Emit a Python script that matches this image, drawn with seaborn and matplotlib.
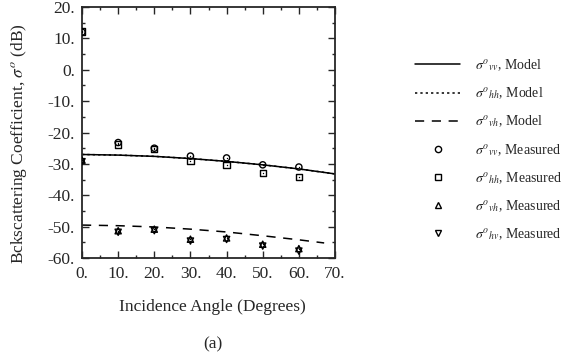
import numpy as np
import pandas as pd
import matplotlib
matplotlib.use("Agg")
import matplotlib.pyplot as plt
import seaborn as sns
from matplotlib.lines import Line2D
from matplotlib.ticker import MultipleLocator, FuncFormatter

# model curves
model_angle = [0, 10, 20, 30, 40, 50, 60, 70]
vv_model = [-27.0, -27.2, -27.6, -28.3, -29.2, -30.3, -31.6, -33.2]
hh_model = [-27.0, -27.2, -27.6, -28.3, -29.2, -30.3, -31.6, -33.2]
vh_angle = [0, 10, 20, 30, 40, 50, 60, 67]
vh_model = [-49.5, -49.7, -50.1, -50.8, -51.7, -52.9, -54.2, -55.2]

# measurements
meas_angle = [0, 10, 20, 30, 40, 50, 60]
vv_meas = [12.0, -23.2, -25.0, -27.5, -28.1, -30.3, -31.0]
hh_meas = [12.2, -23.8, -25.3, -29.0, -30.3, -32.9, -34.1]
vh_meas = [-28.8, -51.3, -50.8, -54.0, -53.6, -55.6, -57.0]
hv_meas = [-29.3, -51.8, -51.3, -54.6, -54.1, -56.2, -57.8]

models = pd.DataFrame({
    "angle": model_angle * 2 + vh_angle,
    "sigma": vv_model + hh_model + vh_model,
    "pol": ["vv"] * 8 + ["hh"] * 8 + ["vh"] * 8,
})
meas = pd.DataFrame({
    "angle": meas_angle * 4,
    "sigma": vv_meas + hh_meas + vh_meas + hv_meas,
    "pol": ["vv"] * 7 + ["hh"] * 7 + ["vh"] * 7 + ["hv"] * 7,
})

sns.set_style("ticks")
plt.rcParams["font.family"] = ["Liberation Serif", "DejaVu Serif"]
plt.rcParams["mathtext.fontset"] = "stix"

fig = plt.figure(figsize=(5.68, 3.60), dpi=100)
ax = fig.add_axes([0.1444, 0.2833, 0.4454, 0.6972])

styles = {"vv": "-", "hh": (0, (1.5, 2)), "vh": (0, (6, 5))}
for pol in ["hh", "vv", "vh"]:
    sub = models[models.pol == pol]
    sns.lineplot(data=sub, x="angle", y="sigma", ax=ax, color="black",
                 linewidth=1.1, linestyle=styles[pol], legend=False)

markers = {"vv": "o", "hh": "s", "vh": "^", "hv": "v"}
for pol in ["vv", "hh", "vh", "hv"]:
    sub = meas[meas.pol == pol]
    sns.scatterplot(data=sub, x="angle", y="sigma", ax=ax, marker=markers[pol],
                    s=20, facecolor="none", edgecolor="black", linewidth=1.0,
                    legend=False, zorder=3)
    sns.scatterplot(data=sub, x="angle", y="sigma", ax=ax, marker=".",
                    s=4, color="black", linewidth=0, legend=False, zorder=4)

ax.set_xlim(0, 70)
ax.set_ylim(-60, 20)
ax.xaxis.set_major_locator(MultipleLocator(10))
ax.xaxis.set_minor_locator(MultipleLocator(5))
ax.yaxis.set_major_locator(MultipleLocator(10))
ax.yaxis.set_minor_locator(MultipleLocator(5))
fmt = FuncFormatter(lambda v, p: f"{v:.0f}.")
ax.xaxis.set_major_formatter(fmt)
ax.yaxis.set_major_formatter(fmt)
ax.tick_params(which="both", direction="in", top=True, right=True, labelsize=12.5,
               width=1.0)
ax.tick_params(axis="y", pad=5)
ax.tick_params(axis="x", pad=6)
ax.tick_params(which="major", length=5)
ax.tick_params(which="minor", length=2.5)
for sp in ax.spines.values():
    sp.set_linewidth(1.3)

ax.set_xlabel("Incidence Angle (Degrees)", fontsize=12.5)
ax.set_ylabel(r"Bckscattering Coefficient, $\sigma^{o}$ (dB)", fontsize=12.5)
ax.xaxis.set_label_coords(0.515, -0.165)
ax.yaxis.set_label_coords(-0.21, 0.455)

fig.text(0.375, 0.042, "(a)", fontsize=12.5, ha="center", va="center")

handles = [
    Line2D([], [], color="black", lw=1.1, ls="-"),
    Line2D([], [], color="black", lw=1.1, ls=(0, (1.5, 2))),
    Line2D([], [], color="black", lw=1.1, ls=(0, (6, 5))),
    Line2D([], [], color="black", ls="none", marker="o", mfc="none", ms=4.5),
    Line2D([], [], color="black", ls="none", marker="s", mfc="none", ms=4.5),
    Line2D([], [], color="black", ls="none", marker="^", mfc="none", ms=4.5),
    Line2D([], [], color="black", ls="none", marker="v", mfc="none", ms=4.5),
]
labels = [
    r"$\sigma^{o}{}_{vv}$, Model",
    r"$\sigma^{o}{}_{hh}$, Model",
    r"$\sigma^{o}{}_{vh}$, Model",
    r"$\sigma^{o}{}_{vv}$, Measured",
    r"$\sigma^{o}{}_{hh}$, Measured",
    r"$\sigma^{o}{}_{vh}$, Measured",
    r"$\sigma^{o}{}_{hv}$, Measured",
]
fig.legend(handles, labels, loc="upper left", bbox_to_anchor=(0.708, 0.875),
           frameon=False, fontsize=10, handlelength=3.3, labelspacing=0.9,
           handletextpad=1.08)

fig.savefig("out.png", dpi=100)
